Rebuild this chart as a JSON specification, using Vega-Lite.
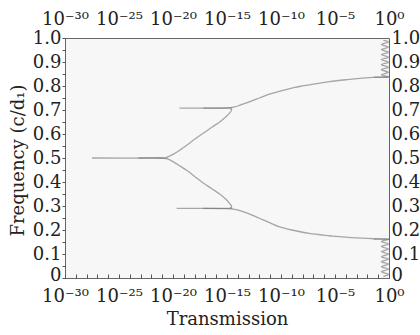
{
  "$schema": "https://vega.github.io/schema/vega-lite/v6.json",
  "width": 324,
  "height": 240,
  "autosize": {"type": "none"},
  "padding": {"left": 65, "top": 38, "right": 31, "bottom": 57},
  "background": "white",
  "config": {
    "view": {"fill": "#f7f7f7", "stroke": "#666666", "strokeWidth": 1},
    "font": "DejaVu Serif",
    "axis": {
      "labelFont": "DejaVu Serif",
      "titleFont": "DejaVu Serif",
      "labelColor": "#222222",
      "titleColor": "#222222",
      "titleFontWeight": "normal",
      "labelFontSize": 18,
      "titleFontSize": 18,
      "grid": false,
      "domain": false,
      "labelOverlap": false,
      "labelFlush": false,
      "tickColor": "#555555"
    }
  },
  "data": {
    "values": [
      {"s": "A", "i": 0, "t": 3.16e-28, "f": 0.5},
      {"s": "A", "i": 1, "t": 6.31e-22, "f": 0.5},
      {"s": "A", "i": 2, "t": 2.51e-21, "f": 0.503},
      {"s": "A", "i": 3, "t": 1e-20, "f": 0.515},
      {"s": "A", "i": 4, "t": 5.01e-20, "f": 0.535},
      {"s": "A", "i": 5, "t": 2.0e-19, "f": 0.554},
      {"s": "A", "i": 6, "t": 1e-18, "f": 0.578},
      {"s": "A", "i": 7, "t": 6.31e-18, "f": 0.603},
      {"s": "A", "i": 8, "t": 3.98e-17, "f": 0.628},
      {"s": "A", "i": 9, "t": 2.24e-16, "f": 0.651},
      {"s": "A", "i": 10, "t": 7.94e-16, "f": 0.672},
      {"s": "A", "i": 11, "t": 1.78e-15, "f": 0.688},
      {"s": "A", "i": 12, "t": 2.69e-15, "f": 0.7},
      {"s": "A", "i": 13, "t": 2.0e-15, "f": 0.706},
      {"s": "A", "i": 14, "t": 1e-15, "f": 0.708},
      {"s": "A", "i": 15, "t": 3.98e-20, "f": 0.708},
      {"s": "C", "i": 0, "t": 6.31e-24, "f": 0.5},
      {"s": "C", "i": 1, "t": 6.31e-22, "f": 0.5},
      {"s": "C", "i": 2, "t": 2.51e-21, "f": 0.497},
      {"s": "C", "i": 3, "t": 1e-20, "f": 0.485},
      {"s": "C", "i": 4, "t": 5.01e-20, "f": 0.465},
      {"s": "C", "i": 5, "t": 2.0e-19, "f": 0.448},
      {"s": "C", "i": 6, "t": 1e-18, "f": 0.423},
      {"s": "C", "i": 7, "t": 6.31e-18, "f": 0.396},
      {"s": "C", "i": 8, "t": 3.98e-17, "f": 0.372},
      {"s": "C", "i": 9, "t": 2.24e-16, "f": 0.349},
      {"s": "C", "i": 10, "t": 7.94e-16, "f": 0.328},
      {"s": "C", "i": 11, "t": 1.78e-15, "f": 0.31},
      {"s": "C", "i": 12, "t": 2.69e-15, "f": 0.298},
      {"s": "C", "i": 13, "t": 2.0e-15, "f": 0.292},
      {"s": "C", "i": 14, "t": 1e-15, "f": 0.29},
      {"s": "C", "i": 15, "t": 2.19e-20, "f": 0.29},
      {"s": "B", "i": 0, "t": 6.31e-18, "f": 0.708},
      {"s": "B", "i": 1, "t": 1e-15, "f": 0.709},
      {"s": "B", "i": 2, "t": 5.01e-15, "f": 0.713},
      {"s": "B", "i": 3, "t": 1.58e-14, "f": 0.72},
      {"s": "B", "i": 4, "t": 1e-13, "f": 0.733},
      {"s": "B", "i": 5, "t": 1e-12, "f": 0.75},
      {"s": "B", "i": 6, "t": 1e-11, "f": 0.767},
      {"s": "B", "i": 7, "t": 1e-10, "f": 0.78},
      {"s": "B", "i": 8, "t": 1e-9, "f": 0.791},
      {"s": "B", "i": 9, "t": 6.31e-9, "f": 0.799},
      {"s": "B", "i": 10, "t": 1e-7, "f": 0.808},
      {"s": "B", "i": 11, "t": 3.16e-6, "f": 0.818},
      {"s": "B", "i": 12, "t": 1e-4, "f": 0.826},
      {"s": "B", "i": 13, "t": 2e-3, "f": 0.832},
      {"s": "B", "i": 14, "t": 7.94e-2, "f": 0.837},
      {"s": "B", "i": 15, "t": 1, "f": 0.838},
      {"s": "D", "i": 0, "t": 6.31e-18, "f": 0.29},
      {"s": "D", "i": 1, "t": 1e-15, "f": 0.289},
      {"s": "D", "i": 2, "t": 5.01e-15, "f": 0.286},
      {"s": "D", "i": 3, "t": 1.58e-14, "f": 0.281},
      {"s": "D", "i": 4, "t": 1e-13, "f": 0.268},
      {"s": "D", "i": 5, "t": 1e-12, "f": 0.249},
      {"s": "D", "i": 6, "t": 1e-11, "f": 0.23},
      {"s": "D", "i": 7, "t": 6.31e-11, "f": 0.214},
      {"s": "D", "i": 8, "t": 1e-9, "f": 0.2},
      {"s": "D", "i": 9, "t": 3.98e-8, "f": 0.186},
      {"s": "D", "i": 10, "t": 3.16e-6, "f": 0.176},
      {"s": "D", "i": 11, "t": 2.51e-5, "f": 0.172},
      {"s": "D", "i": 12, "t": 3.16e-3, "f": 0.166},
      {"s": "D", "i": 13, "t": 7.94e-2, "f": 0.163},
      {"s": "D", "i": 14, "t": 1, "f": 0.161},
      {"s": "U", "i": 0, "t": 3.98e-2, "f": 0.837},
      {"s": "U", "i": 1, "t": 0.89, "f": 0.837},
      {"s": "U", "i": 2, "t": 0.2, "f": 0.847},
      {"s": "U", "i": 3, "t": 0.89, "f": 0.857},
      {"s": "U", "i": 4, "t": 0.2, "f": 0.868},
      {"s": "U", "i": 5, "t": 0.89, "f": 0.878},
      {"s": "U", "i": 6, "t": 0.2, "f": 0.889},
      {"s": "U", "i": 7, "t": 0.89, "f": 0.899},
      {"s": "U", "i": 8, "t": 0.2, "f": 0.91},
      {"s": "U", "i": 9, "t": 0.89, "f": 0.92},
      {"s": "U", "i": 10, "t": 0.2, "f": 0.931},
      {"s": "U", "i": 11, "t": 0.89, "f": 0.941},
      {"s": "U", "i": 12, "t": 0.2, "f": 0.952},
      {"s": "U", "i": 13, "t": 0.89, "f": 0.962},
      {"s": "U", "i": 14, "t": 0.2, "f": 0.973},
      {"s": "U", "i": 15, "t": 0.89, "f": 0.983},
      {"s": "U", "i": 16, "t": 0.3, "f": 0.99},
      {"s": "L", "i": 0, "t": 3.98e-2, "f": 0.162},
      {"s": "L", "i": 1, "t": 0.89, "f": 0.162},
      {"s": "L", "i": 2, "t": 0.2, "f": 0.152},
      {"s": "L", "i": 3, "t": 0.89, "f": 0.142},
      {"s": "L", "i": 4, "t": 0.2, "f": 0.131},
      {"s": "L", "i": 5, "t": 0.89, "f": 0.121},
      {"s": "L", "i": 6, "t": 0.2, "f": 0.11},
      {"s": "L", "i": 7, "t": 0.89, "f": 0.1},
      {"s": "L", "i": 8, "t": 0.2, "f": 0.089},
      {"s": "L", "i": 9, "t": 0.89, "f": 0.079},
      {"s": "L", "i": 10, "t": 0.2, "f": 0.068},
      {"s": "L", "i": 11, "t": 0.89, "f": 0.058},
      {"s": "L", "i": 12, "t": 0.2, "f": 0.047},
      {"s": "L", "i": 13, "t": 0.89, "f": 0.037},
      {"s": "L", "i": 14, "t": 0.2, "f": 0.026},
      {"s": "L", "i": 15, "t": 0.89, "f": 0.016},
      {"s": "L", "i": 16, "t": 0.3, "f": 0.006}
    ]
  },
  "layer": [
    {
      "mark": {"type": "line", "color": "#707070", "strokeWidth": 1.3, "opacity": 0.6, "interpolate": "cardinal"},
      "encoding": {
        "x": {
          "field": "t", "type": "quantitative",
          "scale": {"type": "log", "domain": [1e-30, 1], "nice": false},
          "axis": {
            "orient": "bottom",
            "title": "Transmission",
            "titleX": 162, "titleY": 41, "titleBaseline": "middle",
            "values": [1e-30,1e-29,1e-28,1e-27,1e-26,1e-25,1e-24,1e-23,1e-22,1e-21,1e-20,1e-19,1e-18,1e-17,1e-16,1e-15,1e-14,1e-13,1e-12,1e-11,1e-10,1e-9,1e-8,1e-7,1e-6,1e-5,1e-4,1e-3,1e-2,1e-1,1],
            "labelExpr": "round(log(datum.value)/LN10)==-30?'10⁻³⁰':round(log(datum.value)/LN10)==-25?'10⁻²⁵':round(log(datum.value)/LN10)==-20?'10⁻²⁰':round(log(datum.value)/LN10)==-15?'10⁻¹⁵':round(log(datum.value)/LN10)==-10?'10⁻¹⁰':round(log(datum.value)/LN10)==-5?'10⁻⁵':round(log(datum.value)/LN10)==0?'10⁰':''",
            "tickSize": -4,
            "labelPadding": 13
          }
        },
        "y": {
          "field": "f", "type": "quantitative",
          "scale": {"domain": [0, 1], "nice": false},
          "axis": {
            "orient": "left",
            "title": "Frequency (c/d₁)",
            "titleX": -47, "titleY": 122, "titleBaseline": "middle",
            "values": [0,0.05,0.1,0.15,0.2,0.25,0.3,0.35,0.4,0.45,0.5,0.55,0.6,0.65,0.7,0.75,0.8,0.85,0.9,0.95,1],
            "labelExpr": "round(datum.value*20)%2==0?(datum.value==0?'0':format(datum.value,'.1f')):''",
            "labelOffset": {"condition": {"test": "datum.value == 0", "value": -3}, "value": 0},
            "tickSize": 3,
            "labelPadding": 1
          }
        },
        "detail": {"field": "s"},
        "order": {"field": "i"}
      }
    },
    {
      "mark": {"type": "line", "opacity": 0},
      "encoding": {
        "x": {
          "field": "t", "type": "quantitative",
          "scale": {"type": "log", "domain": [1e-30, 1], "nice": false},
          "axis": {
            "orient": "top",
            "title": null,
            "values": [1e-30,1e-25,1e-20,1e-15,1e-10,1e-5,1],
            "labelExpr": "round(log(datum.value)/LN10)==-30?'10⁻³⁰':round(log(datum.value)/LN10)==-25?'10⁻²⁵':round(log(datum.value)/LN10)==-20?'10⁻²⁰':round(log(datum.value)/LN10)==-15?'10⁻¹⁵':round(log(datum.value)/LN10)==-10?'10⁻¹⁰':round(log(datum.value)/LN10)==-5?'10⁻⁵':'10⁰'",
            "ticks": false,
            "labelPadding": 10
          }
        },
        "y": {
          "field": "f", "type": "quantitative",
          "scale": {"domain": [0, 1], "nice": false},
          "axis": {
            "orient": "right",
            "title": null,
            "values": [0,0.1,0.2,0.3,0.4,0.5,0.6,0.7,0.8,0.9,1],
            "labelExpr": "datum.value==0?'0':format(datum.value,'.1f')",
            "labelOffset": {"condition": {"test": "datum.value == 0", "value": -3}, "value": 0},
            "ticks": false,
            "labelPadding": 2
          }
        },
        "detail": {"field": "s"},
        "order": {"field": "i"}
      }
    }
  ],
  "resolve": {"axis": {"x": "independent", "y": "independent"}}
}
